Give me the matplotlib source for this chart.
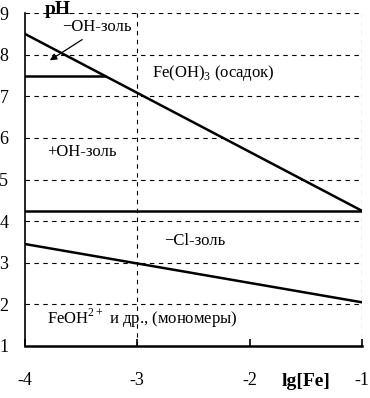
import matplotlib.pyplot as plt

plt.rcParams['font.family'] = ['Liberation Serif', 'DejaVu Serif']
plt.rcParams['axes.unicode_minus'] = False
plt.rcParams['mathtext.fontset'] = 'custom'
plt.rcParams['mathtext.rm'] = 'Liberation Serif'

# boundary lines (lg[Fe], pH)
upper_x = [-4, -1]
upper_y = [8.5, 4.25]
shelf_x = [-4, -3.29]
shelf_y = [7.5, 7.5]
mid_x = [-4, -1]
mid_y = [4.25, 4.25]
lower_x = [-4, -1]
lower_y = [3.45, 2.05]

x_ticks = [-4, -3, -2, -1]
y_ticks = [1, 2, 3, 4, 5, 6, 7, 8, 9]

fig = plt.figure(figsize=(3.7, 3.98), dpi=100)
ax = fig.add_axes([0.0676, 0.1307, 0.9104, 0.8363])

# dashed grid
for y in y_ticks[1:]:
    ax.axhline(y, color='black', lw=0.8, ls=(0, (4, 4)), zorder=1)
for x in [-3, -1]:
    ax.axvline(x, color='black', lw=0.8, ls=(0, (4, 4)), zorder=1)

for xs, ys in [(upper_x, upper_y), (shelf_x, shelf_y), (mid_x, mid_y), (lower_x, lower_y)]:
    ax.plot(xs, ys, color='black', lw=1.8, zorder=3)

ax.set_xlim(-4, -1)
ax.set_ylim(1, 9)
ax.set_xticks(x_ticks)
ax.set_yticks(y_ticks)
ax.tick_params(axis='x', direction='in', length=5, width=1.2, pad=19, labelsize=13)
ax.tick_params(axis='y', length=0, pad=12, labelsize=13)
for s in ['top', 'right']:
    ax.spines[s].set_visible(False)
ax.spines['left'].set_linewidth(1.2)
ax.spines['bottom'].set_linewidth(1.8)

# labels
ax.text(-3.67, 8.67, '\u2212OH-золь', fontsize=12, va='center')
ax.annotate('', xy=(-3.80, 7.83), xytext=(-3.47, 8.4),
            arrowprops=dict(arrowstyle='-|>', color='black', lw=0.9, mutation_scale=10))
ax.text(-2.87, 7.56, 'Fe(OH)$_3$ (осадок)', fontsize=12, va='center')
ax.text(-3.80, 5.66, '+OH-золь', fontsize=12, va='center')
ax.text(-2.76, 3.52, '\u2212Cl-золь', fontsize=12, va='center')
ax.text(-3.80, 1.67, 'FeOH$^{2+}$ и др., (мономеры)', fontsize=12, va='center')

fig.text(45 / 370, 1 - 10 / 398, 'pH', fontsize=14, fontweight='bold', va='center')
fig.text(282 / 370, 1 - 381 / 398, 'lg[Fe]', fontsize=14, fontweight='bold', va='center')

fig.savefig('out.png', dpi=100)
